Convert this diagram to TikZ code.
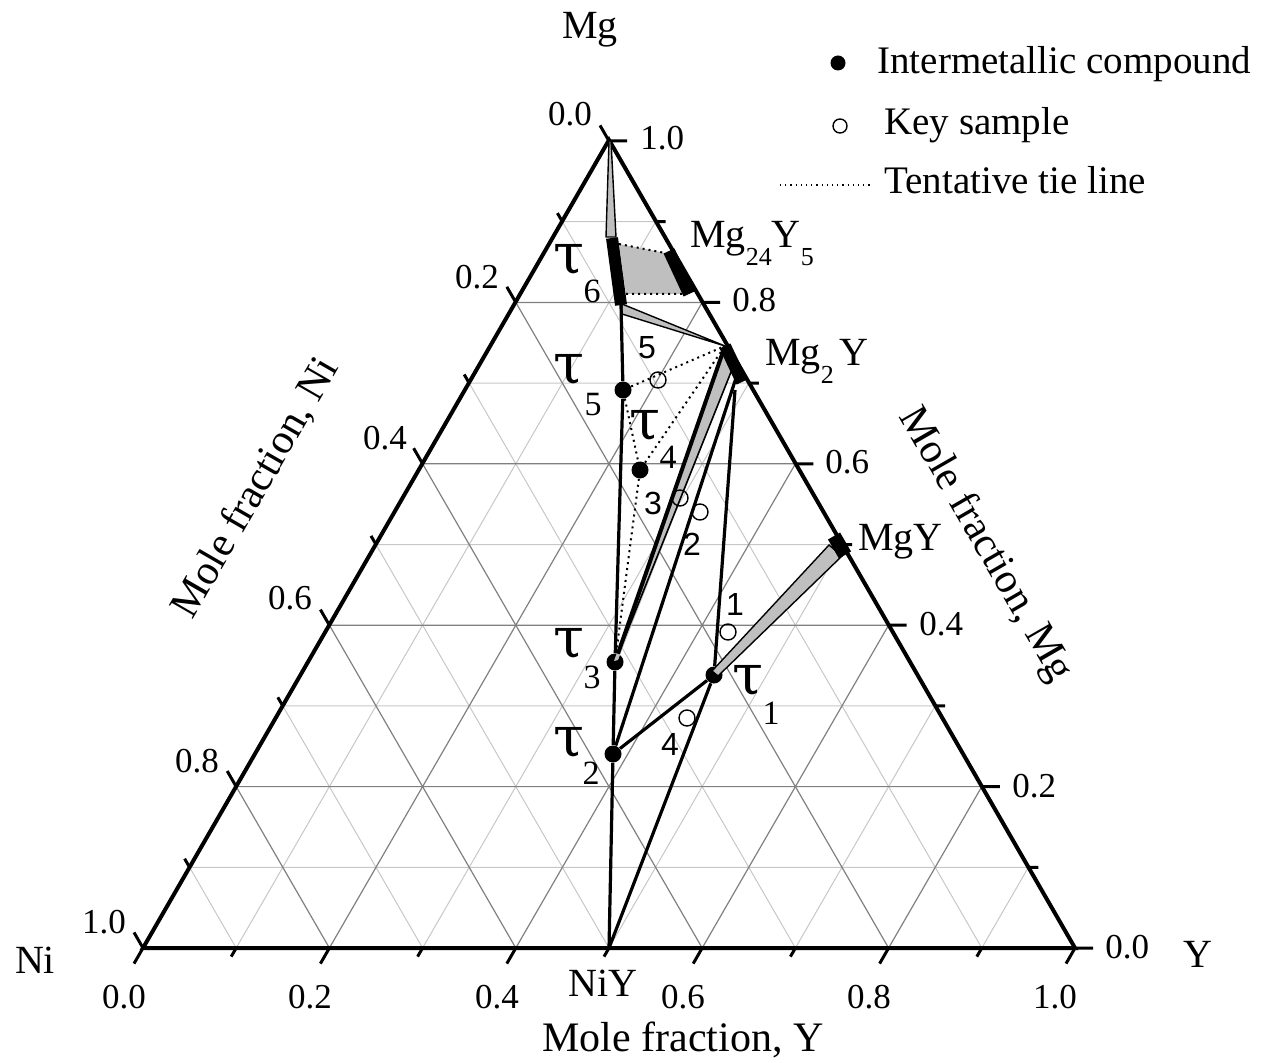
\documentclass[tikz,border=0pt]{standalone}
\usepackage{fontspec}
\setmainfont{Liberation Serif}
\newfontfamily\numfont{Liberation Sans}
\newfontfamily\taufont{DejaVu Serif}
\newcommand\lsub[1]{\raisebox{-9pt}{\fontsize{13}{13}\selectfont#1}}
\begin{document}
\begin{tikzpicture}[x=0.5pt,y=-0.5pt,
  every node/.style={inner sep=0pt,font=\fontsize{17.5}{17.5}\selectfont},
  rim/.style={line width=2pt},
  axtick/.style={line width=1.5pt},
  tie/.style={line width=1.6pt},
  thinline/.style={line width=0.8pt},
  tent/.style={dotted,line width=1pt},
  gridmajor/.style={black!50,line width=0.6pt},
  gridminor/.style={black!22,line width=0.5pt},
  phase/.style={fill=black!25,draw=black,line width=0.7pt},
  phbar/.style={line width=6pt},
  cmp/.style={circle,fill=black,minimum size=8.5pt},
  smp/.style={circle,draw=black,line width=0.7pt,minimum size=8pt},
  elem/.style={font=\fontsize{20}{20}\selectfont},
  axtitle/.style={font=\fontsize{21}{21}\selectfont},
  taus/.style={font=\taufont\fontsize{28}{28}\selectfont},
  tsub/.style={font=\fontsize{17}{17}\selectfont},
  snum/.style={font=\numfont\fontsize{16}{16}\selectfont},
  legtext/.style={font=\fontsize{19.5}{19.5}\selectfont}]
\useasboundingbox (0,0) rectangle (1262,1063);
% grid and ticks, ternary frame: (x_Y, x_Mg)
\begin{scope}[shift={(143,948)},x={(466pt,0pt)},y={(233pt,403.5pt)}]
\foreach \k in {1,3,5,7,9}
  \draw[gridminor] (0,\k/10) -- (1-\k/10,\k/10) (\k/10,0) -- (\k/10,1-\k/10) (\k/10,0) -- (0,\k/10);
\foreach \k in {2,4,6,8}
  \draw[gridmajor] (0,\k/10) -- (1-\k/10,\k/10) (\k/10,0) -- (\k/10,1-\k/10) (\k/10,0) -- (0,\k/10);
\foreach \k in {0,2,...,10}
  \draw[axtick] (\k/10,0) -- ++(-4.5pt,-7.8pt) (0,\k/10) -- ++(-4.5pt,7.8pt) (1-\k/10,\k/10) -- ++(9pt,0pt);
\foreach \k in {1,3,...,9}
  \draw[axtick] (\k/10,0) -- ++(-2.5pt,-4.3pt) (0,\k/10) -- ++(-2.5pt,4.3pt) (1-\k/10,\k/10) -- ++(5pt,0pt);
\end{scope}
\coordinate (Ni) at (143,948);
\coordinate (Y) at (1075,948);
\coordinate (Mg) at (609,140);
\coordinate (NiY) at (609,948);
\draw[rim] (Ni) -- (Y) -- (Mg) -- cycle;
% compounds
\coordinate (t6a) at (612,238);
\coordinate (t6b) at (621,305);
\coordinate (m24a) at (669,251);
\coordinate (m24b) at (689,294);
\coordinate (mg2y) at (725,346);
\coordinate (mg2yb) at (742,382);
\coordinate (mg2yc) at (736,378);
\coordinate (mg2yd) at (735,390);
\coordinate (mgya) at (834,536);
\coordinate (mgyb) at (845,555);
\node[cmp] (t1) at (714,675) {};
\node[cmp] (t2) at (613,754) {};
\node[cmp] (t3) at (615,662) {};
\node[cmp] (t4) at (640,470) {};
\node[cmp] (t5) at (623,390) {};
% two-phase regions
\draw[phase] (609,141) -- (611,141) -- (616,237) -- (606,237) -- cycle;
\fill[black!25] (619,244) -- (665,253) -- (684,294) -- (626,294) -- cycle;
\draw[tent] (619,244) -- (665,253) (626,294) -- (684,294);
\draw[phase] (622,304) -- (mg2y) -- (622,314) -- cycle;
\draw[phase] (829,545) -- (842,556) -- (718,676) -- (712,671) -- cycle;
\fill[black!25] (mg2y) -- (735,362) -- (618,660) -- (614,661) -- cycle;
\draw[thinline] (735,362) -- (t3);
% tie lines
\draw[tie,line width=2pt] (mg2y) -- (t3);
\draw[tie] (t6b) -- (t5) -- (t3) -- (t2) -- (NiY);
\draw[tie] (t2) -- (t1) -- (NiY);
\draw[tie] (t2) -- (mg2yc);
\draw[tie] (t1) -- (mg2yd);
\draw[tent] (t5) -- (mg2y);
\draw[tent] (t4) -- (mg2y);
\draw[tent] (t5) -- (t4) -- (t3);
\draw[phbar] (t6a) -- (t6b);
\draw[phbar] (m24a) -- (m24b);
\draw[phbar] (mg2y) -- (mg2yb);
\draw[phbar,line width=7pt] (mgya) -- (mgyb);
% key samples
\node[smp] (s1) at (728,632) {};
\node[smp] (s2) at (700,512) {};
\node[smp] (s3) at (680,498) {};
\node[smp] (s4) at (687,718) {};
\node[smp] (s5) at (658,380) {};
\node[snum] (n1) at (735,604) {1};
\node[snum] (n2) at (692,544) {2};
\node[snum] (n3) at (653,503) {3};
\node[snum] (n4) at (670,744) {4};
\node[snum] (n5) at (647,348) {5};
% phase labels
\node[taus] (lt1) at (748,681) {τ};
\node[tsub] (lt1n) at (771,713) {1};
\node[taus] (lt2) at (569,743) {τ};
\node[tsub] (lt2n) at (591,773) {2};
\node[taus] (lt3) at (569,644) {τ};
\node[tsub] (lt3n) at (592,677) {3};
\node[taus] (lt4) at (645,426) {τ};
\node[tsub] (lt4n) at (668,457) {4};
\node[taus] (lt5) at (569,370) {τ};
\node[tsub] (lt5n) at (593,405) {5};
\node[taus] (lt6) at (569,260) {τ};
\node[tsub] (lt6n) at (592,291) {6};
\node[elem,anchor=base west] (lMg24) at (690,248) {Mg\lsub{24}Y\lsub{5}};
\node[elem,anchor=base west] (lMg2) at (765,366) {Mg\lsub{2}\hspace{3pt}Y};
\node[elem,anchor=base west] (lMgY) at (858,550) {MgY};
\node[elem] (lNiY) at (603,983) {NiY};
\node[elem] (lMg) at (590,30) {Mg};
\node[elem] (lNi) at (35,960) {Ni};
\node[elem] (lY) at (1198,954) {Y};
% axis numbers
\foreach \v/\px in {0.0/124,0.2/310,0.4/497,0.6/683,0.8/869,1.0/1055}
  \node (bt\px) at (\px,997) {\v};
\foreach \v/\px/\py in {0.0/570/114,0.2/477/277,0.4/385/438,0.6/290/598,0.8/197/761,1.0/104/922}
  \node (lt\py) at (\px,\py) {\v};
\foreach \v/\px/\py in {1.0/640/138,0.8/732/300,0.6/825/462,0.4/919/624,0.2/1012/786,0.0/1105/947}
  \node[anchor=west] (rt\py) at (\px,\py) {\v};
\node[axtitle] (xY) at (683,1040) {Mole fraction, Y};
\node[axtitle,rotate=60] (xNi) at (256,488) {Mole fraction, Ni};
\node[axtitle,rotate=-60] (xMg) at (985,545) {Mole fraction, Mg};
% legend
\node[cmp,minimum size=7.5pt] (legcmp) at (838,63) {};
\node[legtext,anchor=base west] (legcmpt) at (877,74) {Intermetallic compound};
\node[smp,minimum size=7pt] (legsmp) at (840,126) {};
\node[legtext,anchor=base west] (legsmpt) at (884,135) {Key sample};
\coordinate (legtenta) at (780,185);
\coordinate (legtentb) at (870,185);
\draw[dotted,line width=0.6pt] (legtenta) -- (legtentb);
\node[legtext,anchor=base west] (legtentt) at (884,194) {Tentative tie line};
\end{tikzpicture}
\end{document}
